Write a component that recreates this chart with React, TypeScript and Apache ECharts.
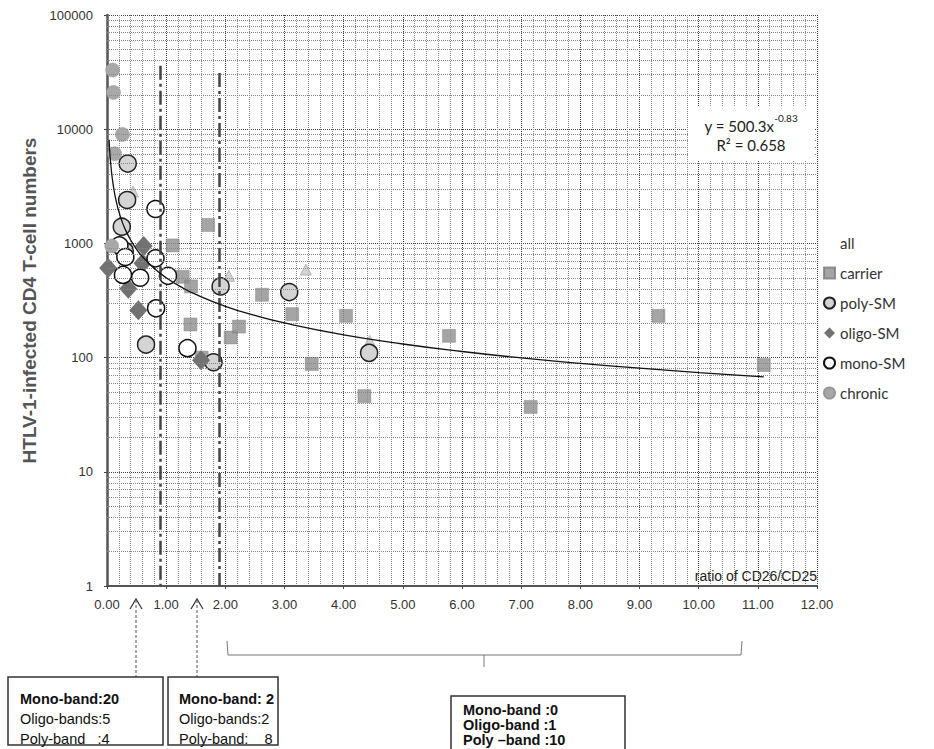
import React, { useEffect, useRef } from "react";
import * as echarts from "echarts";

// ---------- data ----------
const CARRIER_X = [1.71, 1.11, 1.28, 1.42, 2.62, 3.13, 4.04, 1.41, 2.09, 2.23, 1.6, 3.46, 4.35, 5.78, 7.16, 9.32, 11.1];
const CARRIER_Y = [1450, 960, 510, 420, 355, 240, 232, 195, 150, 187, 100, 88, 46, 155, 37, 232, 86];

const POLY_X = [0.35, 0.34, 0.25, 0.3, 1.92, 3.08, 0.66, 1.8, 4.43];
const POLY_Y = [5000, 2400, 1400, 860, 420, 375, 130, 91, 110];

const OLIGO_X = [0.62, 0.02, 0.6, 0.36, 0.53, 1.59];
const OLIGO_Y = [950, 610, 670, 400, 260, 95];

const MONO_X = [0.82, 0.21, 0.31, 0.27, 0.56, 0.82, 1.03, 0.83, 1.36];
const MONO_Y = [2000, 960, 760, 530, 500, 740, 520, 270, 121];

const CHRONIC_X = [0.095, 0.11, 0.26, 0.13, 0.08];
const CHRONIC_Y = [33000, 21000, 9000, 6100, 950];

const ALL_X = [3.36, 2.06, 4.44, 0.44];
const ALL_Y = [590, 520, 140, 2850];

// power trendline printed on the chart: y = 500.3 x^-0.83
const TREND_A = 500.3;
const TREND_B = -0.83;
const TREND_X = [0.035, 0.04, 0.05, 0.06, 0.08, 0.1, 0.12, 0.15, 0.2, 0.25, 0.3, 0.4, 0.5, 0.6, 0.8, 1, 1.25, 1.5, 2, 2.5, 3, 4, 5, 6, 7, 8, 9, 10, 11.1];

// vertical cut-off lines
const CUTOFF_X = [0.9, 1.9];
const CUTOFF_TOP = [36000, 31000];

// axis
const X_MIN = 0;
const X_MAX = 12;
const X_INTERVAL = 1;
const Y_MIN = 1;
const Y_MAX = 100000;
const Y_DECADES = [1, 10, 100, 1000, 10000];
const MINOR_STEPS = [2, 3, 4, 5, 6, 7, 8, 9];

const LEGEND_NAMES = ["all", "carrier", "poly-SM", "oligo-SM", "mono-SM", "chronic"];

const BOX1 = ["Mono-band:20", "Oligo-bands:5", "Poly-band   :4"];
const BOX2 = ["Mono-band: 2", "Oligo-bands:2", "Poly-band:    8"];
const BOX3 = ["Mono-band :0", "Oligo-band :1", "Poly \u2013band :10"];

const zip = (xs: number[], ys: number[]) => xs.map((x, i) => [x, ys[i]]);

const NARROW = "'Liberation Sans Narrow', 'Arial Narrow', 'Liberation Sans', Arial, sans-serif";
const SANS = "'Liberation Sans', Arial, sans-serif";
const CAL = "Lato, 'Open Sans', sans-serif";

export default function App() {
  const ref = useRef<HTMLDivElement>(null);
  useEffect(() => {
    const chart = echarts.init(ref.current!, null, { renderer: "svg" });

    const minorLines = [] as any[];
    Y_DECADES.forEach((d) => MINOR_STEPS.forEach((m) => minorLines.push({ yAxis: d * m })));

    const trendData = TREND_X.map((x) => [x, TREND_A * Math.pow(x, TREND_B)]);

    const boxText = (lines: string[], x: number, y0: number, gap: number, bold: boolean[]) =>
      lines.map((t, i) => ({
        type: "text",
        x,
        y: y0 + i * gap,
        style: {
          text: t,
          fill: "#111",
          font: `${bold[i] ? "bold " : ""}14.5px ${NARROW}`,
          verticalAlign: "middle",
        },
      }));

    const option: any = {
      animation: false,
      backgroundColor: "#fff",
      grid: { left: 107, right: 117, top: 15, bottom: 163, containLabel: false },
      xAxis: {
        type: "value",
        min: X_MIN,
        max: X_MAX,
        interval: X_INTERVAL,
        name: "ratio of CD26/CD25",
        nameLocation: "end",
        nameGap: 0,
        nameTextStyle: {
          align: "right",
          verticalAlign: "bottom",
          fontFamily: NARROW,
          fontSize: 14,
          color: "#222",
          padding: [0, 0, 3, 0],
        },
        axisLine: { show: true, onZero: false, lineStyle: { color: "#555", width: 2 } },
        axisTick: { show: true, length: 3, lineStyle: { color: "#444" } },
        minorTick: { show: true, splitNumber: 5, length: 0 },
        axisLabel: {
          formatter: (v: number) => v.toFixed(2),
          fontFamily: SANS,
          fontSize: 13,
          color: "#333",
          margin: 12,
        },
        splitLine: { show: true, lineStyle: { type: "dotted", color: "#444", width: 1 } },
        minorSplitLine: { show: true, lineStyle: { type: "dotted", color: "#888", width: 1 } },
      },
      yAxis: {
        type: "log",
        logBase: 10,
        min: Y_MIN,
        max: Y_MAX,
        name: "HTLV-1-infected CD4 T-cell numbers",
        nameLocation: "middle",
        nameGap: 66,
        nameTextStyle: { fontFamily: SANS, fontSize: 19, fontWeight: "bold", color: "#555" },
        axisLine: { show: true, lineStyle: { color: "#555", width: 2.5 } },
        axisTick: { show: true, length: 3, lineStyle: { color: "#444" } },
        axisLabel: {
          formatter: (v: number) => String(v),
          fontFamily: SANS,
          fontSize: 13,
          color: "#333",
          margin: 14,
        },
        splitLine: { show: true, lineStyle: { type: "dotted", color: "#444", width: 1 } },
      },
      legend: {
        orient: "vertical",
        left: 818,
        top: 230,
        itemWidth: 11,
        itemHeight: 11,
        itemGap: 14,
        textStyle: { fontFamily: CAL, fontSize: 15, color: "#333", lineHeight: 16 },
        data: LEGEND_NAMES.map((n) =>
          n === "all" ? { name: n, icon: "rect", itemStyle: { color: "rgba(0,0,0,0)", borderWidth: 0 } } : n
        ),
      },
      series: [
        {
          name: "grid-helper",
          type: "scatter",
          data: [],
          silent: true,
          markLine: {
            silent: true,
            symbol: ["none", "none"],
            label: { show: false },
            lineStyle: { type: "dotted", color: "#888", width: 1 },
            data: [
              ...minorLines,
              ...CUTOFF_X.map((x, i) => [
                {
                  coord: [x, CUTOFF_TOP[i]],
                  lineStyle: { type: [14, 4, 3, 4], color: "#444", width: 2.5 },
                },
                { coord: [x, Y_MIN] },
              ]),
            ],
          },
        },
        {
          name: "all",
          type: "scatter",
          symbol: "triangle",
          symbolSize: 11,
          itemStyle: { color: "#c8c8c8", borderColor: "#999", borderWidth: 0.8 },
          data: zip(ALL_X, ALL_Y),
        },
        {
          name: "carrier",
          type: "scatter",
          symbol: "rect",
          symbolSize: 13,
          itemStyle: { color: "#8e8e8e", borderColor: "#7a7a7a", borderWidth: 0.5 },
          data: zip(CARRIER_X, CARRIER_Y),
        },
        {
          name: "poly-SM",
          type: "scatter",
          symbol: "circle",
          symbolSize: 17,
          itemStyle: { color: "#d4d4d4", borderColor: "#222", borderWidth: 1.5, opacity: 1 },
          data: zip(POLY_X, POLY_Y),
        },
        {
          name: "oligo-SM",
          type: "scatter",
          symbol: "diamond",
          symbolSize: [18, 20],
          itemStyle: { color: "#727272", opacity: 1 },
          data: zip(OLIGO_X, OLIGO_Y),
        },
        {
          name: "mono-SM",
          type: "scatter",
          symbol: "circle",
          symbolSize: 17,
          itemStyle: { color: "#ffffff", borderColor: "#111", borderWidth: 1.5, opacity: 1 },
          data: zip(MONO_X, MONO_Y),
        },
        {
          name: "chronic",
          type: "scatter",
          symbol: "circle",
          symbolSize: 14,
          itemStyle: { color: "#a8a8a8", borderColor: "#999", borderWidth: 0.5, opacity: 1 },
          data: zip(CHRONIC_X, CHRONIC_Y),
        },
        {
          name: "trend",
          type: "line",
          showSymbol: false,
          symbol: "none",
          smooth: true,
          z: 5,
          lineStyle: { color: "#111", width: 1.3 },
          data: trendData,
        },
      ],
      graphic: [
        // equation box
        { type: "rect", shape: { x: 688, y: 106, width: 126, height: 54 }, style: { fill: "#fff" }, z: 10 },
        {
          type: "text",
          x: 751,
          y: 123,
          z: 11,
          style: {
            text: "{a|y = 500.3x}{s|-0.83}",
            align: "center",
            verticalAlign: "middle",
            rich: {
              a: { fontFamily: CAL, fontSize: 15, fill: "#222", lineHeight: 20, verticalAlign: "bottom" },
              s: { fontFamily: CAL, fontSize: 10, fill: "#222", lineHeight: 20, verticalAlign: "top" },
            },
          },
        },
        {
          type: "text",
          x: 751,
          y: 145,
          z: 11,
          style: {
            text: "R\u00b2 = 0.658",
            align: "center",
            verticalAlign: "middle",
            font: `15px ${CAL}`,
            fill: "#222",
          },
        },
        // arrows
        ...[136, 197].flatMap((ax) => [
          {
            type: "polyline",
            shape: { points: [[ax - 6, 609], [ax, 599], [ax + 6, 609]] },
            style: { stroke: "#333", lineWidth: 1.2, fill: "none" },
          },
          {
            type: "line",
            shape: { x1: ax, y1: 600, x2: ax, y2: 677 },
            style: { stroke: "#555", lineWidth: 1, lineDash: [3, 2] },
          },
        ]),
        // bracket
        {
          type: "polyline",
          shape: { points: [[227, 641], [228, 655], [741, 655], [742, 641]] },
          style: { stroke: "#777", lineWidth: 1, fill: "none" },
        },
        {
          type: "line",
          shape: { x1: 484, y1: 655, x2: 484, y2: 667 },
          style: { stroke: "#777", lineWidth: 1 },
        },
        // boxes
        { type: "rect", shape: { x: 8, y: 677, width: 155, height: 68 }, style: { fill: "#fff", stroke: "#333", lineWidth: 1.5 } },
        { type: "rect", shape: { x: 168, y: 677, width: 110, height: 68 }, style: { fill: "#fff", stroke: "#333", lineWidth: 1.5 } },
        { type: "rect", shape: { x: 451, y: 696, width: 174, height: 62 }, style: { fill: "#fff", stroke: "#333", lineWidth: 1.5 } },
        ...boxText(BOX1, 20, 699, 20, [true, false, false]),
        ...boxText(BOX2, 179, 699, 20, [true, false, false]),
        ...boxText(BOX3, 463, 710, 15, [true, true, true]),
      ],
    };

    chart.setOption(option);
    return () => chart.dispose();
  }, []);

  return (
    <div
      ref={ref}
      style={{ position: "absolute", left: 0, top: 0, width: 934, height: 749, background: "#fff" }}
    />
  );
}
